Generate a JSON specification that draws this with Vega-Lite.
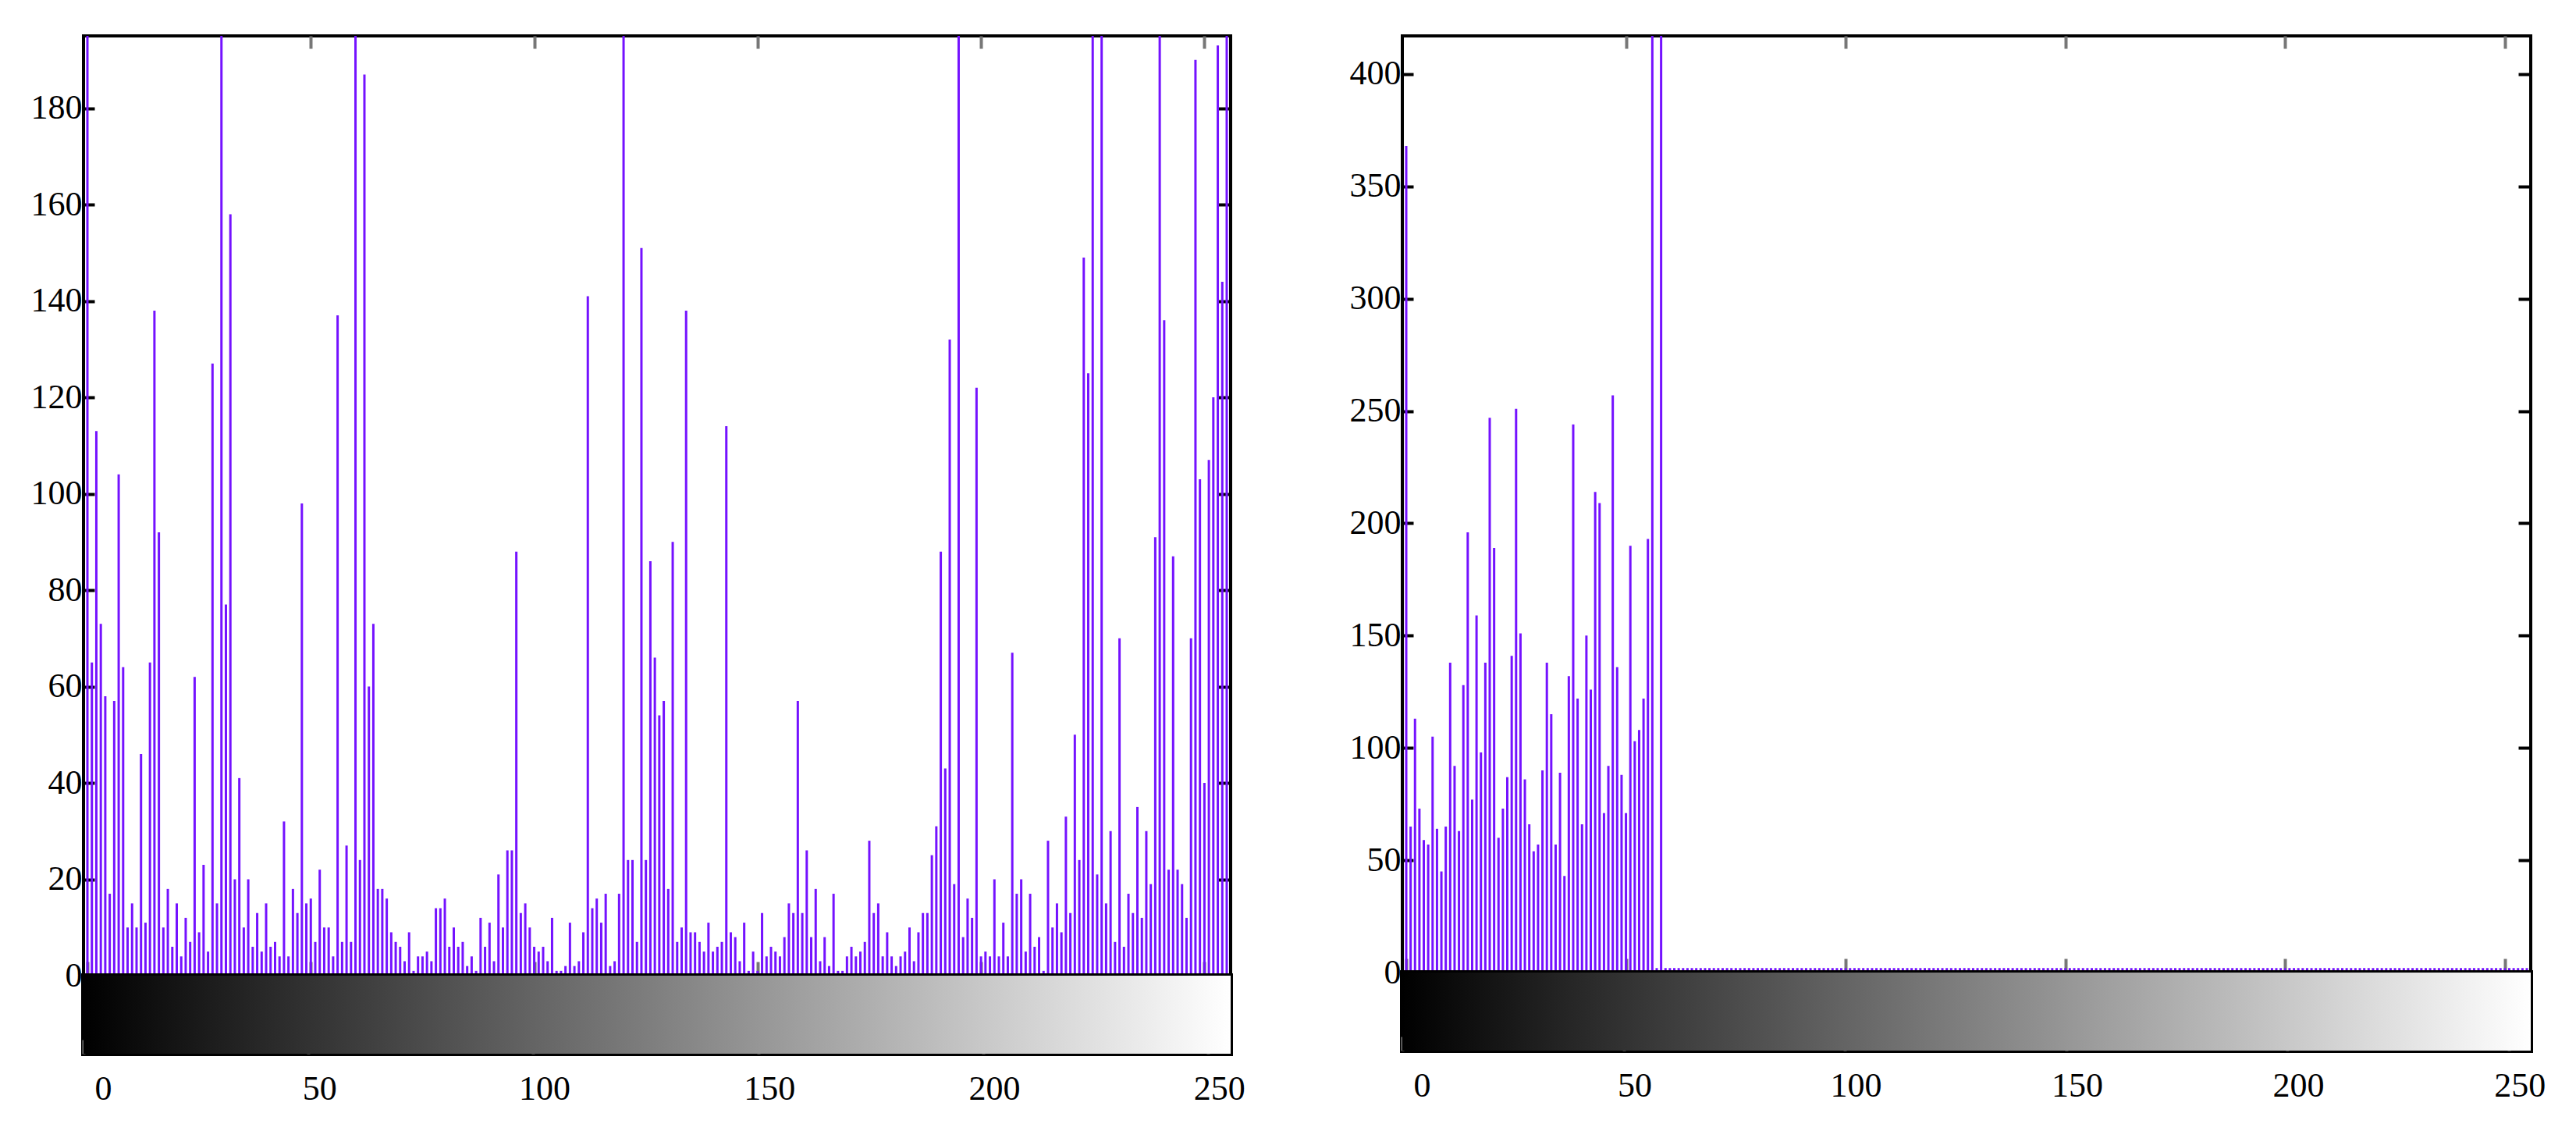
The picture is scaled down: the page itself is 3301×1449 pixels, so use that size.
{
"$schema": "https://vega.github.io/schema/vega-lite/v6.json",
"background": "white",
"padding": {"left": 37, "top": 42, "right": 5, "bottom": 5},
"spacing": 128,
"config": {
  "view": {"stroke": "#000", "strokeWidth": 4},
  "axis": {"domain": false, "grid": false, "title": null, "labelFont": "Liberation Serif", "labelFontSize": 44, "labelColor": "#000", "tickColor": "#000", "tickWidth": 4}
},
"datasets": {
"left": [
{"bin":0,"count":230},{"bin":1,"count":65},{"bin":2,"count":113},{"bin":3,"count":73},{"bin":4,"count":58},{"bin":5,"count":17},{"bin":6,"count":57},{"bin":7,"count":104},{"bin":8,"count":64},{"bin":9,"count":10},
{"bin":10,"count":15},{"bin":11,"count":10},{"bin":12,"count":46},{"bin":13,"count":11},{"bin":14,"count":65},{"bin":15,"count":138},{"bin":16,"count":92},{"bin":17,"count":10},{"bin":18,"count":18},{"bin":19,"count":6},
{"bin":20,"count":15},{"bin":21,"count":4},{"bin":22,"count":12},{"bin":23,"count":7},{"bin":24,"count":62},{"bin":25,"count":9},{"bin":26,"count":23},{"bin":27,"count":5},{"bin":28,"count":127},{"bin":29,"count":15},
{"bin":30,"count":230},{"bin":31,"count":77},{"bin":32,"count":158},{"bin":33,"count":20},{"bin":34,"count":41},{"bin":35,"count":10},{"bin":36,"count":20},{"bin":37,"count":6},{"bin":38,"count":13},{"bin":39,"count":5},
{"bin":40,"count":15},{"bin":41,"count":6},{"bin":42,"count":7},{"bin":43,"count":4},{"bin":44,"count":32},{"bin":45,"count":4},{"bin":46,"count":18},{"bin":47,"count":13},{"bin":48,"count":98},{"bin":49,"count":15},
{"bin":50,"count":16},{"bin":51,"count":7},{"bin":52,"count":22},{"bin":53,"count":10},{"bin":54,"count":10},{"bin":55,"count":4},{"bin":56,"count":137},{"bin":57,"count":7},{"bin":58,"count":27},{"bin":59,"count":7},
{"bin":60,"count":230},{"bin":61,"count":24},{"bin":62,"count":187},{"bin":63,"count":60},{"bin":64,"count":73},{"bin":65,"count":18},{"bin":66,"count":18},{"bin":67,"count":16},{"bin":68,"count":9},{"bin":69,"count":7},
{"bin":70,"count":6},{"bin":71,"count":3},{"bin":72,"count":9},{"bin":73,"count":1},{"bin":74,"count":4},{"bin":75,"count":4},{"bin":76,"count":5},{"bin":77,"count":3},{"bin":78,"count":14},{"bin":79,"count":14},
{"bin":80,"count":16},{"bin":81,"count":6},{"bin":82,"count":10},{"bin":83,"count":6},{"bin":84,"count":7},{"bin":85,"count":2},{"bin":86,"count":4},{"bin":87,"count":1},{"bin":88,"count":12},{"bin":89,"count":6},
{"bin":90,"count":11},{"bin":91,"count":3},{"bin":92,"count":21},{"bin":93,"count":10},{"bin":94,"count":26},{"bin":95,"count":26},{"bin":96,"count":88},{"bin":97,"count":13},{"bin":98,"count":15},{"bin":99,"count":10},
{"bin":100,"count":6},{"bin":101,"count":5},{"bin":102,"count":6},{"bin":103,"count":3},{"bin":104,"count":12},{"bin":105,"count":1},{"bin":106,"count":1},{"bin":107,"count":2},{"bin":108,"count":11},{"bin":109,"count":2},
{"bin":110,"count":3},{"bin":111,"count":9},{"bin":112,"count":141},{"bin":113,"count":14},{"bin":114,"count":16},{"bin":115,"count":11},{"bin":116,"count":17},{"bin":117,"count":2},{"bin":118,"count":3},{"bin":119,"count":17},
{"bin":120,"count":230},{"bin":121,"count":24},{"bin":122,"count":24},{"bin":123,"count":7},{"bin":124,"count":151},{"bin":125,"count":24},{"bin":126,"count":86},{"bin":127,"count":66},{"bin":128,"count":54},{"bin":129,"count":57},
{"bin":130,"count":18},{"bin":131,"count":90},{"bin":132,"count":7},{"bin":133,"count":10},{"bin":134,"count":138},{"bin":135,"count":9},{"bin":136,"count":9},{"bin":137,"count":7},{"bin":138,"count":5},{"bin":139,"count":11},
{"bin":140,"count":5},{"bin":141,"count":6},{"bin":142,"count":7},{"bin":143,"count":114},{"bin":144,"count":9},{"bin":145,"count":8},{"bin":146,"count":3},{"bin":147,"count":11},{"bin":148,"count":1},{"bin":149,"count":5},
{"bin":150,"count":1},{"bin":151,"count":13},{"bin":152,"count":4},{"bin":153,"count":6},{"bin":154,"count":5},{"bin":155,"count":4},{"bin":156,"count":8},{"bin":157,"count":15},{"bin":158,"count":13},{"bin":159,"count":57},
{"bin":160,"count":13},{"bin":161,"count":26},{"bin":162,"count":8},{"bin":163,"count":18},{"bin":164,"count":3},{"bin":165,"count":8},{"bin":166,"count":2},{"bin":167,"count":17},{"bin":168,"count":1},{"bin":169,"count":1},
{"bin":170,"count":4},{"bin":171,"count":6},{"bin":172,"count":4},{"bin":173,"count":5},{"bin":174,"count":7},{"bin":175,"count":28},{"bin":176,"count":13},{"bin":177,"count":15},{"bin":178,"count":4},{"bin":179,"count":9},
{"bin":180,"count":4},{"bin":181,"count":2},{"bin":182,"count":4},{"bin":183,"count":5},{"bin":184,"count":10},{"bin":185,"count":3},{"bin":186,"count":9},{"bin":187,"count":13},{"bin":188,"count":13},{"bin":189,"count":25},
{"bin":190,"count":31},{"bin":191,"count":88},{"bin":192,"count":43},{"bin":193,"count":132},{"bin":194,"count":19},{"bin":195,"count":230},{"bin":196,"count":8},{"bin":197,"count":16},{"bin":198,"count":12},{"bin":199,"count":122},
{"bin":200,"count":4},{"bin":201,"count":5},{"bin":202,"count":4},{"bin":203,"count":20},{"bin":204,"count":4},{"bin":205,"count":11},{"bin":206,"count":4},{"bin":207,"count":67},{"bin":208,"count":17},{"bin":209,"count":20},
{"bin":210,"count":5},{"bin":211,"count":17},{"bin":212,"count":6},{"bin":213,"count":8},{"bin":214,"count":1},{"bin":215,"count":28},{"bin":216,"count":10},{"bin":217,"count":15},{"bin":218,"count":9},{"bin":219,"count":33},
{"bin":220,"count":13},{"bin":221,"count":50},{"bin":222,"count":24},{"bin":223,"count":149},{"bin":224,"count":125},{"bin":225,"count":230},{"bin":226,"count":21},{"bin":227,"count":230},{"bin":228,"count":15},{"bin":229,"count":30},
{"bin":230,"count":7},{"bin":231,"count":70},{"bin":232,"count":6},{"bin":233,"count":17},{"bin":234,"count":13},{"bin":235,"count":35},{"bin":236,"count":12},{"bin":237,"count":30},{"bin":238,"count":19},{"bin":239,"count":91},
{"bin":240,"count":230},{"bin":241,"count":136},{"bin":242,"count":22},{"bin":243,"count":87},{"bin":244,"count":22},{"bin":245,"count":19},{"bin":246,"count":12},{"bin":247,"count":70},{"bin":248,"count":190},{"bin":249,"count":103},
{"bin":250,"count":40},{"bin":251,"count":107},{"bin":252,"count":120},{"bin":253,"count":193},{"bin":254,"count":144},{"bin":255,"count":230}
],
"right": [
{"bin":0,"count":368},{"bin":1,"count":65},{"bin":2,"count":113},{"bin":3,"count":73},{"bin":4,"count":59},{"bin":5,"count":57},{"bin":6,"count":105},{"bin":7,"count":64},{"bin":8,"count":45},{"bin":9,"count":65},
{"bin":10,"count":138},{"bin":11,"count":92},{"bin":12,"count":63},{"bin":13,"count":128},{"bin":14,"count":196},{"bin":15,"count":77},{"bin":16,"count":159},{"bin":17,"count":98},{"bin":18,"count":138},{"bin":19,"count":247},
{"bin":20,"count":189},{"bin":21,"count":60},{"bin":22,"count":73},{"bin":23,"count":87},{"bin":24,"count":141},{"bin":25,"count":251},{"bin":26,"count":151},{"bin":27,"count":86},{"bin":28,"count":66},{"bin":29,"count":54},
{"bin":30,"count":57},{"bin":31,"count":90},{"bin":32,"count":138},{"bin":33,"count":115},{"bin":34,"count":57},{"bin":35,"count":89},{"bin":36,"count":43},{"bin":37,"count":132},{"bin":38,"count":244},{"bin":39,"count":122},
{"bin":40,"count":66},{"bin":41,"count":150},{"bin":42,"count":126},{"bin":43,"count":214},{"bin":44,"count":209},{"bin":45,"count":71},{"bin":46,"count":92},{"bin":47,"count":257},{"bin":48,"count":136},{"bin":49,"count":88},
{"bin":50,"count":71},{"bin":51,"count":190},{"bin":52,"count":103},{"bin":53,"count":108},{"bin":54,"count":122},{"bin":55,"count":193},{"bin":56,"count":450},{"bin":57,"count":2},{"bin":58,"count":450},{"bin":59,"count":2},
{"bin":60,"count":2},{"bin":61,"count":2},{"bin":62,"count":2},{"bin":63,"count":2},{"bin":64,"count":2},{"bin":65,"count":2},{"bin":66,"count":2},{"bin":67,"count":2},{"bin":68,"count":2},{"bin":69,"count":2},
{"bin":70,"count":2},{"bin":71,"count":2},{"bin":72,"count":2},{"bin":73,"count":2},{"bin":74,"count":2},{"bin":75,"count":2},{"bin":76,"count":2},{"bin":77,"count":2},{"bin":78,"count":2},{"bin":79,"count":2},
{"bin":80,"count":2},{"bin":81,"count":2},{"bin":82,"count":2},{"bin":83,"count":2},{"bin":84,"count":2},{"bin":85,"count":2},{"bin":86,"count":2},{"bin":87,"count":2},{"bin":88,"count":2},{"bin":89,"count":2},
{"bin":90,"count":2},{"bin":91,"count":2},{"bin":92,"count":2},{"bin":93,"count":2},{"bin":94,"count":2},{"bin":95,"count":2},{"bin":96,"count":2},{"bin":97,"count":2},{"bin":98,"count":2},{"bin":99,"count":2},
{"bin":100,"count":2},{"bin":101,"count":2},{"bin":102,"count":2},{"bin":103,"count":2},{"bin":104,"count":2},{"bin":105,"count":2},{"bin":106,"count":2},{"bin":107,"count":2},{"bin":108,"count":2},{"bin":109,"count":2},
{"bin":110,"count":2},{"bin":111,"count":2},{"bin":112,"count":2},{"bin":113,"count":2},{"bin":114,"count":2},{"bin":115,"count":2},{"bin":116,"count":2},{"bin":117,"count":2},{"bin":118,"count":2},{"bin":119,"count":2},
{"bin":120,"count":2},{"bin":121,"count":2},{"bin":122,"count":2},{"bin":123,"count":2},{"bin":124,"count":2},{"bin":125,"count":2},{"bin":126,"count":2},{"bin":127,"count":2},{"bin":128,"count":2},{"bin":129,"count":2},
{"bin":130,"count":2},{"bin":131,"count":2},{"bin":132,"count":2},{"bin":133,"count":2},{"bin":134,"count":2},{"bin":135,"count":2},{"bin":136,"count":2},{"bin":137,"count":2},{"bin":138,"count":2},{"bin":139,"count":2},
{"bin":140,"count":2},{"bin":141,"count":2},{"bin":142,"count":2},{"bin":143,"count":2},{"bin":144,"count":2},{"bin":145,"count":2},{"bin":146,"count":2},{"bin":147,"count":2},{"bin":148,"count":2},{"bin":149,"count":2},
{"bin":150,"count":2},{"bin":151,"count":2},{"bin":152,"count":2},{"bin":153,"count":2},{"bin":154,"count":2},{"bin":155,"count":2},{"bin":156,"count":2},{"bin":157,"count":2},{"bin":158,"count":2},{"bin":159,"count":2},
{"bin":160,"count":2},{"bin":161,"count":2},{"bin":162,"count":2},{"bin":163,"count":2},{"bin":164,"count":2},{"bin":165,"count":2},{"bin":166,"count":2},{"bin":167,"count":2},{"bin":168,"count":2},{"bin":169,"count":2},
{"bin":170,"count":2},{"bin":171,"count":2},{"bin":172,"count":2},{"bin":173,"count":2},{"bin":174,"count":2},{"bin":175,"count":2},{"bin":176,"count":2},{"bin":177,"count":2},{"bin":178,"count":2},{"bin":179,"count":2},
{"bin":180,"count":2},{"bin":181,"count":2},{"bin":182,"count":2},{"bin":183,"count":2},{"bin":184,"count":2},{"bin":185,"count":2},{"bin":186,"count":2},{"bin":187,"count":2},{"bin":188,"count":2},{"bin":189,"count":2},
{"bin":190,"count":2},{"bin":191,"count":2},{"bin":192,"count":2},{"bin":193,"count":2},{"bin":194,"count":2},{"bin":195,"count":2},{"bin":196,"count":2},{"bin":197,"count":2},{"bin":198,"count":2},{"bin":199,"count":2},
{"bin":200,"count":2},{"bin":201,"count":2},{"bin":202,"count":2},{"bin":203,"count":2},{"bin":204,"count":2},{"bin":205,"count":2},{"bin":206,"count":2},{"bin":207,"count":2},{"bin":208,"count":2},{"bin":209,"count":2},
{"bin":210,"count":2},{"bin":211,"count":2},{"bin":212,"count":2},{"bin":213,"count":2},{"bin":214,"count":2},{"bin":215,"count":2},{"bin":216,"count":2},{"bin":217,"count":2},{"bin":218,"count":2},{"bin":219,"count":2},
{"bin":220,"count":2},{"bin":221,"count":2},{"bin":222,"count":2},{"bin":223,"count":2},{"bin":224,"count":2},{"bin":225,"count":2},{"bin":226,"count":2},{"bin":227,"count":2},{"bin":228,"count":2},{"bin":229,"count":2},
{"bin":230,"count":2},{"bin":231,"count":2},{"bin":232,"count":2},{"bin":233,"count":2},{"bin":234,"count":2},{"bin":235,"count":2},{"bin":236,"count":2},{"bin":237,"count":2},{"bin":238,"count":2},{"bin":239,"count":2},
{"bin":240,"count":2},{"bin":241,"count":2},{"bin":242,"count":2},{"bin":243,"count":2},{"bin":244,"count":2},{"bin":245,"count":2},{"bin":246,"count":2},{"bin":247,"count":2},{"bin":248,"count":2},{"bin":249,"count":2},
{"bin":250,"count":2},{"bin":251,"count":2},{"bin":252,"count":2},{"bin":253,"count":2},{"bin":254,"count":2},{"bin":255,"count":2}
],
"bar": [{"lo":0,"hi":255,"y0":0,"y1":1,"mid":0.5}]
},
"hconcat": [
 {"spacing": 0, "bounds": "flush", "vconcat": [
  {"width": 1470, "height": 1204, "data": {"name": "left"},
   "layer": [
    {"mark": {"type": "bar", "width": 3, "color": "#7412ff", "clip": true},
     "encoding": {
      "x": {"field": "bin", "type": "quantitative", "scale": {"domain": [0,255], "nice": false, "zero": false},
            "axis": {"orient": "bottom", "values": [0,50,100,150,200,250], "labels": false, "tickSize": -18, "tickColor": "#777", "tickWidth": 4}},
      "y": {"field": "count", "type": "quantitative", "scale": {"domain": [0,195], "nice": false},
            "axis": {"orient": "left", "values": [0,20,40,60,80,100,120,140,160,180], "tickSize": -14, "labelPadding": 16}}
     }},
    {"mark": {"type": "point", "opacity": 0, "clip": true},
     "encoding": {
      "x": {"field": "bin", "type": "quantitative", "axis": {"orient": "top", "values": [50,100,150,200,250], "labels": false, "tickSize": -16, "tickColor": "#777", "tickWidth": 4}},
      "y": {"field": "count", "type": "quantitative", "axis": {"orient": "right", "values": [20,40,60,80,100,120,140,160,180], "labels": false, "tickSize": -16}}
     }}
   ],
   "resolve": {"axis": {"x": "independent", "y": "independent"}}
  },
  {"width": 1470, "height": 100, "data": {"name": "bar"}, "view": {"stroke": "#000", "strokeWidth": 6},
   "layer": [
    {"mark": {"type": "rect", "fill": {"gradient": "linear", "x1": 0, "y1": 0, "x2": 1, "y2": 0, "stops": [{"offset": 0, "color": "#000000"}, {"offset": 1, "color": "#ffffff"}]}},
     "encoding": {
      "x": {"field": "lo", "type": "quantitative", "scale": {"domain": [0,255], "nice": false, "zero": false},
            "axis": {"orient": "bottom", "values": [0,50,100,150,200,250], "tickSize": -18, "tickColor": "#777", "tickWidth": 4, "labelPadding": 41, "labelOffset": 14}},
      "x2": {"field": "hi"},
      "y": {"field": "y0", "type": "quantitative", "scale": {"domain": [0,1], "nice": false}, "axis": null},
      "y2": {"field": "y1"}
     }},
    {"mark": {"type": "point", "opacity": 0},
     "encoding": {
      "x": {"field": "lo", "type": "quantitative", "axis": {"orient": "top", "values": [50,100,150,200,250], "labels": false, "tickSize": -18, "tickColor": "#777", "tickWidth": 4}},
      "y": {"field": "mid", "type": "quantitative", "axis": {"orient": "right", "values": [0.5], "labels": false, "tickSize": -16}}
     }}
   ],
   "resolve": {"axis": {"x": "independent", "y": "independent"}}
  }
 ]},
 {"spacing": 0, "bounds": "flush", "vconcat": [
  {"width": 1446, "height": 1200, "data": {"name": "right"},
   "layer": [
    {"mark": {"type": "bar", "width": 3, "color": "#7412ff", "clip": true},
     "encoding": {
      "x": {"field": "bin", "type": "quantitative", "scale": {"domain": [0,255], "nice": false, "zero": false},
            "axis": {"orient": "bottom", "values": [0,50,100,150,200,250], "labels": false, "tickSize": -18, "tickColor": "#777", "tickWidth": 4}},
      "y": {"field": "count", "type": "quantitative", "scale": {"domain": [0,417], "nice": false},
            "axis": {"orient": "left", "values": [0,50,100,150,200,250,300,350,400], "tickSize": -14, "labelPadding": 16}}
     }},
    {"mark": {"type": "point", "opacity": 0, "clip": true},
     "encoding": {
      "x": {"field": "bin", "type": "quantitative", "axis": {"orient": "top", "values": [50,100,150,200,250], "labels": false, "tickSize": -16, "tickColor": "#777", "tickWidth": 4}},
      "y": {"field": "count", "type": "quantitative", "axis": {"orient": "right", "values": [50,100,150,200,250,300,350,400], "labels": false, "tickSize": -16}}
     }}
   ],
   "resolve": {"axis": {"x": "independent", "y": "independent"}}
  },
  {"width": 1446, "height": 100, "data": {"name": "bar"}, "view": {"stroke": "#000", "strokeWidth": 6},
   "layer": [
    {"mark": {"type": "rect", "fill": {"gradient": "linear", "x1": 0, "y1": 0, "x2": 1, "y2": 0, "stops": [{"offset": 0, "color": "#000000"}, {"offset": 1, "color": "#ffffff"}]}},
     "encoding": {
      "x": {"field": "lo", "type": "quantitative", "scale": {"domain": [0,255], "nice": false, "zero": false},
            "axis": {"orient": "bottom", "values": [0,50,100,150,200,250], "tickSize": -18, "tickColor": "#777", "tickWidth": 4, "labelPadding": 41, "labelOffset": 14}},
      "x2": {"field": "hi"},
      "y": {"field": "y0", "type": "quantitative", "scale": {"domain": [0,1], "nice": false}, "axis": null},
      "y2": {"field": "y1"}
     }},
    {"mark": {"type": "point", "opacity": 0},
     "encoding": {
      "x": {"field": "lo", "type": "quantitative", "axis": {"orient": "top", "values": [50,100,150,200,250], "labels": false, "tickSize": -18, "tickColor": "#777", "tickWidth": 4}},
      "y": {"field": "mid", "type": "quantitative", "axis": {"orient": "right", "values": [0.5], "labels": false, "tickSize": -16}}
     }}
   ],
   "resolve": {"axis": {"x": "independent", "y": "independent"}}
  }
 ]}
]
}
